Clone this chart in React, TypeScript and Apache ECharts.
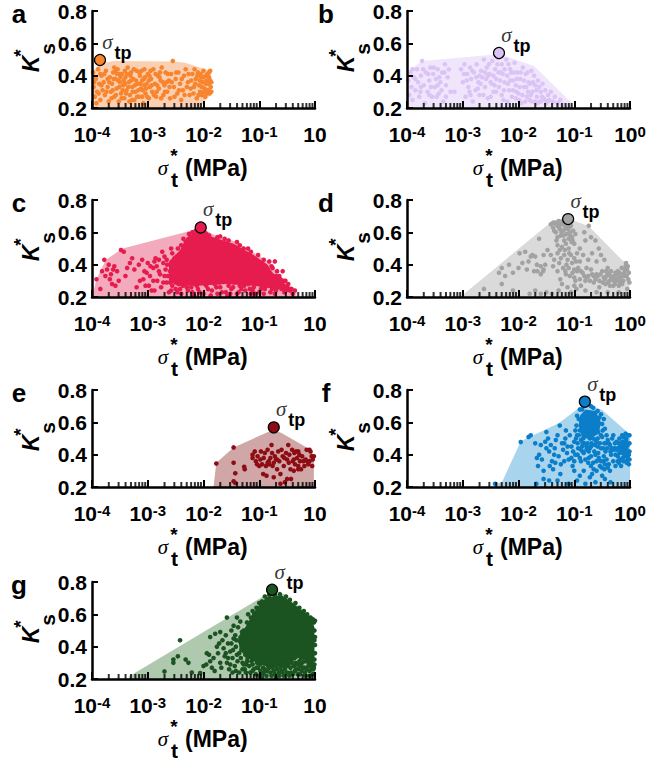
import React, { useEffect, useRef } from "react";
import * as echarts from "echarts";

const decades = [-4, -3, -2, -1];
const rugFactors = [2, 3, 4, 5, 6, 7, 8, 9];

// all x values are log10(sigma_t*), y values Ks*; flat x,y pairs
const hullA = [-4,.2,-4,.425,-3.85,.476,-3.61,.49,-2.54,.487,-2.33,.48,-1.88,.43,-1.85,.29,-2.06,.21,-2.3,.2];
const tpA = [-3.857,.497];
const ptsA = [
-3.98,.42,-3.97,.33,-3.95,.27,-3.93,.38,-3.91,.3,-3.89,.44,-3.87,.35,-3.85,.25,-3.83,.4,-3.81,.31,-3.79,.36,-3.77,.28,-3.75,.43,-3.72,.33,-3.7,.24,-3.68,.39,
-3.66,.3,-3.64,.35,-3.62,.42,-3.6,.27,-3.58,.38,-3.56,.32,-3.54,.44,-3.52,.24,-3.5,.36,-3.48,.29,-3.46,.41,-3.44,.34,-3.42,.26,-3.4,.39,-3.38,.31,-3.36,.45,
-3.34,.36,-3.32,.28,-3.3,.42,-3.28,.33,-3.26,.38,-3.24,.25,-3.22,.3,-3.2,.43,-3.18,.35,-3.16,.27,-3.14,.4,-3.12,.32,-3.1,.37,-3.08,.23,-3.06,.44,-3.04,.29,
-3.02,.35,-3.0,.41,-2.98,.26,-2.96,.33,-2.94,.38,-2.92,.3,-2.9,.44,-2.87,.35,-2.85,.27,-2.82,.4,-2.8,.32,-2.77,.37,-2.75,.45,-2.72,.28,-2.7,.34,-2.68,.42,
-2.65,.3,-2.62,.37,-2.6,.26,-2.58,.41,-2.55,.49,-2.53,.33,-2.5,.38,-2.47,.29,-2.45,.42,-2.42,.35,-2.4,.25,-2.37,.31,-2.35,.4,-2.32,.44,-2.28,.36,-2.25,.28,
-2.2,.41,-2.17,.33,-2.14,.38,-2.12,.26,-2.1,.42,-2.08,.34,-2.06,.3,-2.04,.39,-2.02,.36,-2,.43,-1.98,.32,-1.97,.27,-1.95,.37,-1.93,.41,-1.92,.31,-1.91,.35,
-1.9,.39,-1.89,.29,-1.88,.43,-1.87,.33,-1.86,.36,-1.86,.3,-3.6,.45,-3.45,.31,-3.3,.37,-3.15,.42,-3.53,.37,-3.37,.41,-3.23,.34,-3.05,.39,-2.95,.43,-2.78,.42,
-3.72,.38,-3.65,.26,-3.5,.41,-3.33,.24,-3.17,.31,-3.1,.27,-2.98,.37,-2.84,.3,-2.66,.36,-2.3,.33,-2.22,.37,-2.16,.44,-2.03,.28,-1.96,.4,-3.85,.41,-3.92,.23,
-3.96,.36,-3.88,.29,-3.83,.34,-3.78,.41,-3.74,.3,-3.69,.36,-3.63,.31,-3.61,.38,-3.57,.28,-3.55,.41,-3.51,.33,-3.49,.39,-3.47,.26,-3.43,.37,-3.41,.43,-3.39,.29,
-3.35,.33,-3.31,.4,-3.27,.3,-3.25,.44,-3.21,.37,-3.19,.27,-3.13,.35,-3.11,.43,-3.09,.31,-3.07,.38,-3.03,.32,-3.01,.27,-2.97,.4,-2.93,.34,-2.89,.28,-2.86,.41,
-2.83,.34,-2.79,.39,-2.76,.26,-2.73,.36,-2.69,.3,-2.64,.41,-2.61,.33,-2.57,.36,-2.52,.27,-2.49,.42,-2.44,.31,-2.39,.38,-2.34,.28,-2.27,.41,-2.23,.32,-2.18,.29,
-2.15,.35,-2.11,.4,-2.09,.28,-2.07,.37,-2.05,.41,-2.03,.33,-2.01,.39,-1.99,.3,-1.96,.35,-1.94,.29,-1.9,.42,-1.88,.37,-3.58,.43,-3.41,.35,-3.28,.25,-3.06,.34];

const hullB = [-4,.2,-4,.425,-3.73,.49,-2.47,.53,-2.2,.517,-1.72,.46,-1.04,.23,-1.07,.2];
const tpB = [-2.35,.54];
const ptsB = [
-3.98,.37,-3.96,.28,-3.94,.42,-3.92,.33,-3.9,.25,-3.88,.39,-3.85,.31,-3.82,.44,-3.8,.36,-3.78,.27,-3.75,.4,-3.73,.49,-3.7,.34,-3.68,.23,-3.66,.42,-3.63,.3,
-3.6,.37,-3.58,.45,-3.55,.27,-3.53,.41,-3.5,.33,-3.48,.38,-3.45,.44,-3.43,.29,-3.4,.36,-3.37,.42,-3.35,.24,-3.32,.47,-3.3,.34,-3.27,.39,-3.25,.44,-3.22,.3,
-3.03,.44,-3,.36,-2.97,.47,-2.95,.27,-2.92,.41,-2.9,.33,-2.87,.45,-2.85,.38,-2.82,.24,-2.8,.42,-2.77,.31,-2.75,.47,-2.72,.36,-2.7,.28,-2.67,.43,-2.65,.39,
-2.62,.5,-2.6,.33,-2.57,.45,-2.55,.26,-2.52,.41,-2.5,.36,-2.47,.49,-2.45,.3,-2.42,.44,-2.4,.38,-2.37,.51,-2.35,.33,-2.32,.42,-2.3,.47,-2.27,.25,-2.25,.36,
-2.22,.5,-2.2,.4,-2.17,.31,-2.15,.44,-2.12,.27,-2.1,.37,-2.07,.48,-2.05,.34,-2.02,.42,-2,.29,-1.97,.38,-1.95,.23,-1.92,.45,-1.9,.33,-1.87,.41,-1.85,.27,
-1.82,.36,-1.8,.25,-1.77,.43,-1.75,.3,-1.72,.4,-1.7,.34,-1.67,.27,-1.65,.37,-1.62,.24,-1.6,.3,-1.57,.35,-1.55,.26,-1.52,.31,-1.5,.23,-1.47,.28,-1.45,.25,
-1.42,.3,-1.38,.24,-1.35,.27,-1.3,.23,-1.25,.25,-1.2,.22,-2.55,.4,-2.48,.35,-2.4,.3,-2.33,.37,-2.25,.44,-2.15,.37,-2.05,.26,-1.98,.33,-1.88,.24,-1.83,.3,
-1.7,.24,-1.6,.24,-3.9,.44,-3.75,.33,-3.6,.28,-3.45,.34,-3.3,.27,-2.88,.3,-2.7,.4,-2.63,.28,-2.5,.27,-2.3,.28,-2.1,.31,-2.2,.24,-1.93,.28,-1.78,.28,
-3.71,.44,-3.62,.41,-3.52,.45,-3.42,.39,-3.33,.42,-3.85,.38,-3.76,.3,-3.57,.33,-3.38,.31,-2.93,.37,-2.83,.43,-2.76,.39,-2.68,.35,-2.58,.38,-2.53,.47,-2.43,.34,
-2.38,.47,-2.28,.41,-2.18,.47,-2.08,.42,-2.03,.38,-1.96,.42,-1.9,.37,-1.84,.42,-1.79,.35,-1.74,.36,-1.68,.31,-1.63,.33,-1.58,.27,-1.53,.25,-2.45,.4,-2.36,.42,
-2.26,.31,-2.19,.35,-2.13,.42,-2.04,.3,-1.99,.25,-1.86,.33,-1.76,.24,-1.66,.23,-1.48,.24,-2.6,.42,-2.73,.32,-2.86,.28,-2.98,.41,-3.47,.27,-3.15,.3];

const hullC = [-4,.2,-3.92,.31,-3.75,.43,-3.45,.5,-2.33,.6,-2.05,.63,-1.82,.586,-1.46,.546,-1.1,.475,-.81,.414,-.69,.353,-.45,.27,-.33,.23,-.33,.2];
const tpC = [-2.05,.63];
const coreC = [-2.62,.3,-2.62,.42,-2.42,.49,-2.3,.57,-2.12,.605,-1.82,.57,-1.46,.53,-1.1,.46,-.85,.4,-.76,.35,-.5,.27,-.4,.235,-.7,.25,-1.1,.27,-1.6,.28,-2.1,.27,-2.45,.27];
const ptsC = [
-3.92,.31,-3.85,.25,-3.82,.36,-3.78,.43,-3.76,.33,-3.73,.37,-3.7,.4,-3.68,.31,-3.66,.34,-3.64,.28,-3.62,.37,-3.6,.39,-3.58,.27,-3.55,.36,-3.52,.3,-3.48,.49,
-3.43,.48,-3.4,.33,-3.37,.38,-3.32,.41,-3.28,.44,-3.24,.37,-3.2,.26,-3.16,.4,-3.14,.3,-3.1,.43,-3.06,.36,-3.04,.27,-3,.41,-2.96,.33,-2.93,.24,-2.9,.38,
-2.86,.44,-2.83,.3,-2.8,.36,-2.76,.26,-2.74,.48,-2.7,.33,-2.66,.29,-2.62,.23,-2.58,.5,-2.55,.3,-2.5,.25,-2.45,.28,-2.4,.22,-2.35,.32,-2.3,.26,-2.25,.3,
-2.2,.23,-2.15,.28,-2.1,.25,-2.05,.31,-2,.22,-1.95,.27,-1.9,.3,-1.85,.24,-1.8,.28,-1.75,.22,-1.7,.26,-1.65,.3,-1.6,.23,-1.55,.27,-1.5,.25,-1.45,.29,
-1.4,.22,-1.35,.27,-1.3,.3,-1.25,.24,-1.2,.28,-1.15,.22,-1.1,.26,-1.05,.29,-1,.23,-.95,.27,-.9,.25,-.85,.3,-.8,.23,-.75,.26,-.7,.24,-.65,.28,-.6,.25,
-.55,.23,-.5,.26,-.45,.24,-.4,.22,-.78,.39,-.72,.42,-.68,.36,-.64,.33,-.58,.36,-.53,.3,-1.95,.59,-1.62,.56,-1.35,.52,-1.2,.5,-1.75,.57,
-2.65,.4,-2.6,.36,-2.48,.45,-2.8,.43,-2.9,.3,-3.02,.35,-3.08,.31,
-2.68,.37,-2.66,.43,-2.64,.33,-2.72,.41,-2.78,.34,-2.84,.39,-2.88,.42,-2.95,.39,-2.7,.45,-2.56,.47,-2.52,.44,-2.46,.5,-2.4,.52,-2.36,.56,-2.32,.54,-2.26,.59,
-2.2,.6,-2.14,.61,-1.98,.6,-1.9,.58,-1.7,.575,-1.55,.55,-1.4,.54,-1.28,.5,-1.15,.48,-1.02,.46,-.92,.43,-.82,.42,-.76,.38,-.7,.33,-.62,.31,-.56,.3,-.48,.28,
-2.56,.27,-2.5,.29,-2.42,.25,-2.28,.24,-2.12,.27,-1.92,.25,-1.72,.29,-1.52,.22,-1.32,.25,-1.12,.24,-.92,.22,-.72,.22,-.52,.24,-.42,.25,-.36,.24,
-2.47,.23,-2.37,.27,-2.22,.26,-2.17,.21,-2.07,.23,-1.97,.28,-1.87,.21,-1.77,.26,-1.67,.23,-1.57,.21,-1.47,.26,-1.37,.23,-1.27,.27,-1.17,.25,-1.07,.22,-.97,.25,
-.87,.27,-.77,.25,-.67,.26,-.57,.27,-.47,.25,-2.58,.24,-2.6,.29,-2.72,.29,-2.98,.27,-2.88,.24];

const hullD = [-3.05,.2,-3.01,.21,-1.49,.643,-1.34,.678,-1,.672,-.74,.637,-.14,.428,-.05,.41,0,.23,0,.2];
const tpD = [-1.11,.682];
const ptsD = [
-1.42,.65,-1.38,.63,-1.35,.66,-1.33,.6,-1.3,.64,-1.28,.67,-1.26,.62,-1.24,.58,-1.22,.65,-1.2,.61,-1.18,.55,-1.16,.64,-1.14,.59,-1.12,.62,-1.1,.56,-1.08,.6,
-1.06,.64,-1.04,.57,-1.02,.61,-1,.53,-1.36,.61,-1.3,.57,-1.25,.65,-1.19,.58,-1.15,.53,-1.1,.5,-1.05,.54,-.98,.59,-.74,.64,-.82,.6,-.7,.57,-.62,.55,-.56,.5,
-.8,.55,-.9,.5,-.95,.47,-1,.44,-1.06,.46,-1.12,.43,-1.18,.46,-1.24,.44,-1.3,.47,-1.36,.43,-1.42,.46,-1.48,.49,-1.55,.46,-1.3,.52,-1.38,.39,-1.2,.38,-1.1,.38,
-1,.37,-.9,.42,-.84,.46,-.75,.43,-.68,.47,-.6,.42,-.52,.46,-.46,.43,-.4,.38,-1.15,.34,-1.08,.33,-1,.32,-.95,.36,-.9,.31,-.85,.35,-.8,.3,-.75,.33,
-.7,.37,-.65,.29,-.6,.34,-.55,.3,-.5,.36,-.47,.32,-.44,.28,-.4,.34,-.37,.3,-.34,.36,-.3,.27,-.28,.33,-.25,.3,-.22,.36,-.2,.27,-.17,.32,-.15,.38,-.12,.3,
-.1,.35,-.07,.41,-.05,.37,-.03,.31,-.08,.39,-.13,.34,-.18,.29,-.24,.34,-.31,.32,-.36,.27,-.43,.36,-.55,.26,-.65,.33,-.78,.38,-.88,.27,-1,.27,-1.12,.26,
-1.06,.23,-1.25,.31,-1.3,.36,-1.22,.28,-1.28,.24,-1.4,.22,-1.5,.23,-1.6,.22,-1.7,.24,-1.8,.22,-1.55,.37,-1.67,.4,-1.72,.36,-1.82,.42,-1.85,.37,-1.88,.48,
-1.93,.41,-1.98,.47,-2,.38,-2.1,.35,-2.17,.4,-2.24,.33,-2.3,.38,-2.35,.35,-2.62,.25,-2.3,.28,-2.1,.24,-1.75,.46,-1.63,.56,-1.78,.45,-1.7,.45,-1.6,.34,
-1.6,.39,-1.56,.36,-1.52,.4,-1.66,.36,-.96,.25,-.8,.24,-.6,.23,-.4,.23,-.2,.23,-.05,.25,
-1.38,.66,-1.32,.65,-1.27,.63,-1.23,.6,-1.21,.67,-1.17,.62,-1.13,.65,-1.09,.63,-1.07,.58,-1.03,.55,-1.32,.55,-1.26,.49,-1.22,.51,-1.17,.49,-1.09,.47,-1.04,.41,
-.97,.42,-.93,.38,-1.14,.4,-1.03,.35,-.98,.3,-.88,.36,-.82,.33,-.78,.32,-.72,.3,-.68,.34,-.62,.31,-.58,.33,-.53,.34,-.49,.29,-.45,.31,-.42,.33,-.38,.35,-.33,.31,
-.29,.3,-.26,.35,-.23,.31,-.19,.35,-.16,.3,-.14,.28,-.11,.33,-.09,.37,-.06,.33,-.04,.39,-.02,.35,-.01,.29,-.35,.33,-.27,.28,-.21,.33,-.39,.29,-1.16,.36,-1.27,.41];

const hullE = [-1.82,.2,-1.77,.35,-1.46,.445,-.75,.554,-.6,.534,-.18,.45,-.02,.4,-.02,.2];
const tpE = [-.74,.569];
const ptsE = [
-1.77,.345,-1.46,.445,-1.46,.35,-1.43,.285,-1.46,.235,-1.43,.225,-1.27,.325,-1.26,.31,-1.12,.38,-1.12,.4,-1.08,.42,-1.06,.36,-1.04,.34,-1.03,.39,-1,.33,-.98,.37,
-.97,.42,-.95,.34,-.93,.28,-.92,.38,-.9,.41,-.88,.33,-.87,.27,-.85,.43,-.83,.36,-.82,.34,-.8,.38,-.78,.46,-.77,.41,-.76,.33,-.74,.26,-.72,.39,-.7,.37,
-.68,.31,-.66,.42,-.64,.36,-.62,.28,-.6,.43,-.58,.39,-.56,.33,-.54,.23,-.52,.41,-.5,.37,-.48,.46,-.46,.4,-.44,.31,-.43,.25,-.41,.43,-.4,.36,-.38,.3,
-.37,.41,-.36,.34,-.34,.42,-.32,.38,-.3,.33,-.28,.4,-.27,.36,-.25,.31,-.23,.39,-.21,.36,-.19,.33,-.17,.37,-.14,.36,-.12,.34,-.1,.36,-.08,.42,-.06,.39,
-.04,.37,-.02,.39,-.15,.43,-.1,.43,-.3,.42,-.47,.35,-.55,.38,-.38,.37,-.68,.37,-.74,.35,-.62,.22,-.5,.25,-.3,.31,-.05,.33,-.85,.35];

const hullF = [-2.44,.2,-2.44,.22,-2.3,.226,-1.96,.483,-1.28,.595,-.8,.718,-.5,.677,-.05,.54,0,.53,0,.2];
const tpF = [-.81,.728];
const coreF1 = [-.92,.58,-.9,.64,-.8,.68,-.62,.67,-.52,.6,-.56,.53,-.72,.5,-.86,.5];
const coreF2 = [-.16,.49,-.03,.5,-.02,.38,-.1,.39,-.17,.43];
const ptsF = [
-2.42,.22,-1.96,.478,-1.82,.51,-1.78,.52,-1.7,.47,-1.67,.38,-1.65,.33,-1.63,.4,-1.6,.46,-1.58,.37,-1.55,.3,-1.52,.48,-1.5,.54,-1.47,.5,-1.45,.42,-1.42,.46,
-1.4,.36,-1.38,.31,-1.35,.44,-1.33,.49,-1.3,.52,-1.28,.39,-1.26,.58,-1.24,.34,-1.2,.43,-1.18,.47,-1.15,.55,-1.13,.41,-1.1,.37,-1.08,.52,-1.05,.45,-1.03,.33,
-1,.48,-.98,.4,-.96,.58,-.93,.44,-.9,.38,-.88,.62,-.85,.42,-.83,.3,-.8,.37,-.78,.43,-.75,.35,-.72,.44,-.7,.39,-.68,.28,-.66,.35,-.64,.42,-.62,.4,-.6,.3,
-.58,.45,-.56,.38,-.54,.33,-.52,.44,-.5,.27,-.48,.36,-.46,.31,-.44,.42,-.42,.37,-.4,.49,-.38,.34,-.36,.46,-.34,.4,-.32,.5,-.3,.36,-.28,.44,-.26,.33,-.24,.48,
-.22,.39,-.2,.35,-.18,.45,-.16,.33,-.14,.52,-.12,.36,-.1,.43,-.08,.53,-.06,.35,-.04,.46,-.02,.34,-.01,.42,-.3,.52,-.42,.52,-.36,.3,-.26,.4,-.52,.36,-.48,.44,
-1.45,.24,-1.3,.24,-1.1,.22,-.95,.24,-.8,.22,-.62,.23,-.35,.23,-1.68,.22,-1.55,.25,-1.25,.28,-1,.3,-.9,.27,-.7,.33,-.6,.36,-.95,.52,-.72,.5,
-.55,.63,-.5,.59,-.45,.56,-.92,.62,-.86,.68,-.7,.7,-.62,.66,-.1,.39,-.04,.38,-.16,.43,-.6,.48,-.78,.45,-.84,.5,
-.98,.55,-.97,.5,-.94,.47,-.9,.55,-.88,.49,-.86,.45,-.82,.47,-.8,.52,-.76,.47,-.74,.42,-.69,.47,-.66,.5,-.63,.46,-.58,.5,-.54,.47,-.52,.52,-.49,.55,-.47,.62,
-.95,.64,-.9,.68,-.83,.7,-.77,.71,-.66,.69,-.58,.67,-.52,.65,-.2,.47,-.23,.44,-.19,.5,-.14,.48,-.12,.51,-.09,.48,-.07,.5,-.03,.52,-.01,.52,-.01,.47,-.01,.37,
-.03,.41,-.06,.42,-.09,.4,-.13,.41,-.19,.41,-.22,.36,-.27,.47,-.33,.44,-.38,.47,-.43,.47,-.47,.39,-.51,.32,-.57,.41,-.65,.31,-.74,.38,-.83,.41,-.88,.43,
-1.22,.47,-1.16,.5,-1.12,.45,-1.02,.42,-1,.36,-.94,.4,-.88,.36,-1.36,.4,-1.44,.33,-1.5,.44,-1.34,.35,-1.18,.36,-1.05,.38,-.72,.26,-.45,.25,
-.92,.52,-.85,.47,-.77,.53,-.7,.45,-.62,.49,-.57,.54,-.5,.51,-.46,.47,-.41,.44,-.35,.42,-.3,.43,-.24,.43,-.18,.37,-.13,.38,-.07,.36,-.02,.4,-.45,.34,-.4,.32];

const hullG = [-3.34,.2,-3.34,.216,-.87,.722,-.57,.728,-.03,.575,0,.2];
const tpG = [-.77,.752];
const coreG = [-1.12,.6,-1.02,.65,-.87,.705,-.6,.718,-.39,.667,-.08,.58,-.01,.52,-.01,.31,-.3,.33,-.55,.28,-.9,.28,-1.16,.32,-1.35,.38,-1.38,.46,-1.25,.52];
const ptsG = [
-2.42,.44,-2.54,.32,-2.46,.34,-2.54,.3,-2.32,.32,-2.27,.3,-2.7,.247,-2.21,.24,-2.06,.237,-2,.28,-1.94,.36,-1.9,.35,-1.88,.46,-1.79,.48,-1.58,.58,-1.4,.58,
-1.34,.555,-1.46,.53,-1.7,.49,-1.2,.6,-1.12,.62,-1.95,.29,-1.88,.31,-1.85,.27,-1.82,.33,-1.8,.25,-1.76,.4,-1.74,.36,-1.72,.42,-1.7,.3,-1.68,.27,-1.66,.44,
-1.64,.39,-1.62,.34,-1.6,.47,-1.58,.3,-1.56,.42,-1.54,.26,-1.52,.37,-1.5,.5,-1.48,.33,-1.46,.45,-1.44,.28,-1.42,.4,-1.4,.35,-1.38,.52,-1.36,.24,-1.34,.43,
-1.32,.38,-1.3,.3,-1.28,.5,-1.26,.26,-1.24,.46,-1.22,.55,-1.2,.35,-1.18,.28,-1.16,.24,-1.14,.31,-1.12,.57,-1.1,.26,-1.08,.33,-1.06,.23,-1.04,.3,-1.02,.27,
-1,.22,-.98,.25,-.96,.3,-.94,.23,-.9,.26,-.87,.22,-.84,.28,-.8,.24,-.76,.27,-.72,.23,-.68,.26,-.64,.22,-.6,.25,-.56,.28,-.52,.31,-.5,.24,-.46,.34,-.44,.27,
-.42,.3,-.4,.23,-.37,.33,-.34,.26,-.32,.36,-.3,.29,-.27,.23,-.25,.33,-.22,.27,-.2,.36,-.18,.24,-.16,.31,-.14,.37,-.12,.28,-.1,.25,-.08,.34,-.06,.3,-.04,.23,
-.03,.36,-.02,.27,-.01,.32,-.35,.3,-.58,.31,-.75,.3,-.88,.3,-.98,.33,-1.1,.38,-1.18,.42,-1.25,.35,-1.3,.44,-1.36,.36,-.01,.44,-.02,.55,-.01,.5,
-1.5,.42,-1.47,.38,-1.43,.47,-1.41,.44,-1.39,.31,-1.33,.33,-1.31,.49,-1.29,.41,-1.27,.37,-1.23,.29,-1.21,.33,-1.19,.5,-1.15,.58,-1.13,.36,-1.09,.6,-1.05,.64,
-1,.67,-.95,.68,-.9,.71,-.82,.72,-.72,.72,-.63,.725,-.52,.71,-.45,.69,-.35,.67,-.28,.64,-.2,.62,-.14,.6,-.08,.58,-.04,.57,0,.56,0,.46,0,.41,0,.36,-.01,.29,
-1.6,.36,-1.56,.33,-1.52,.29,-1.48,.24,-1.42,.25,-1.3,.26,-1.24,.24,-1.12,.25,-.92,.24,-.78,.22,-.66,.29,-.54,.26,-.48,.29,-.38,.28,-.28,.31,-.24,.25,-.12,.32,-.06,.26,
-1.05,.27,-.99,.29,-.93,.27,-.86,.25,-.82,.27,-.74,.25,-.7,.28,-.62,.27,-.58,.24,-.47,.31,-.43,.24,-.36,.25,-.33,.29,-.26,.28,-.23,.3,-.19,.27,-.15,.26,-.11,.3,-.07,.28,
-.03,.26,-.02,.23,-.09,.22,-.17,.22,-.31,.23,-.46,.22,-.56,.22,-.7,.21,-.08,.31,-.04,.29,-.2,.31,-.3,.26,-.5,.28,-.65,.24,-.95,.21,-1.22,.31,-1.28,.29,-1.12,.29];

const rows = [
  { id: "a", L: 92, T: 11, lx: 19, pts: ptsA, hull: hullA, tp: tpA, cores: [] as number[][], hullColor: "#FBD0B2", color: "#F8842E", right: false },
  { id: "b", L: 407, T: 11, lx: 326, pts: ptsB, hull: hullB, tp: tpB, cores: [], hullColor: "#F0E6FC", color: "#DCC3F6", right: true },
  { id: "c", L: 92, T: 200, lx: 19, pts: ptsC, hull: hullC, tp: tpC, cores: [coreC], hullColor: "#F4AABD", color: "#E61C4E", right: false },
  { id: "d", L: 407, T: 200, lx: 326, pts: ptsD, hull: hullD, tp: tpD, cores: [], hullColor: "#DADADA", color: "#A2A2A2", right: true },
  { id: "e", L: 92, T: 390, lx: 19, pts: ptsE, hull: hullE, tp: tpE, cores: [], hullColor: "#D0A6A6", color: "#8E0C14", right: false },
  { id: "f", L: 407, T: 390, lx: 326, pts: ptsF, hull: hullF, tp: tpF, cores: [coreF1, coreF2], hullColor: "#A9D4EE", color: "#0A7EC9", right: true },
  { id: "g", L: 92, T: 582, lx: 19, pts: ptsG, hull: hullG, tp: tpG, cores: [coreG], hullColor: "#AFC9AF", color: "#1B5321", right: false },
];

const W = 223;
const H = 97;
const SANS = '"Liberation Sans", Arial, sans-serif';
const SERIF = '"Liberation Serif", serif';

const pairs = (flat: number[]) => {
  const out: number[][] = [];
  for (let i = 0; i + 1 < flat.length; i += 2) out.push([Math.pow(10, flat[i]), flat[i + 1]]);
  return out;
};

const polygonSeries = (flat: number[], fill: string, idx: number, z: number) => ({
  type: "custom",
  xAxisIndex: idx,
  yAxisIndex: idx,
  silent: true,
  z,
  data: [pairs(flat)[0]],
  renderItem: (_p: any, api: any) => ({
    type: "polygon",
    shape: { points: pairs(flat).map((v) => api.coord(v)) },
    style: { fill },
  }),
});

const rugValues = decades.flatMap((d) => rugFactors.map((f) => [f * Math.pow(10, d), 0.2]));

export default function App() {
  const ref = useRef<HTMLDivElement>(null);
  useEffect(() => {
    const chart = echarts.init(ref.current!, null, { renderer: "svg" });
    const grid: any[] = [];
    const xAxis: any[] = [];
    const yAxis: any[] = [];
    const series: any[] = [];
    const graphic: any[] = [];
    const txt = (x: number, y: number, text: string, font: string, extra: any = {}, align = "center") => ({
      type: "text",
      x,
      y,
      rotation: extra.rotation || 0,
      silent: true,
      style: { text, font, fill: "#000", align, verticalAlign: "middle" },
    });
    rows.forEach((r, i) => {
      grid.push({ left: r.L, top: r.T, width: W, height: H });
      xAxis.push({
        gridIndex: i,
        type: "log",
        logBase: 10,
        min: 1e-4,
        max: 1,
        z: 10,
        splitLine: { show: false },
        minorTick: { show: false },
        axisLine: { show: true, onZero: false, lineStyle: { color: "#000", width: 2.5 } },
        axisTick: { show: true, inside: true, length: 7, lineStyle: { color: "#000", width: 2 } },
        axisLabel: {
          margin: 16,
          color: "#000",
          showMinLabel: true,
          showMaxLabel: true,
          hideOverlap: false,
          formatter: (v: number) => {
            const e = Math.round(Math.log10(v));
            if (e === 0 && !r.right) return "{b|10}";
            return `{b|10}{s|${e}}`;
          },
          rich: {
            b: { fontFamily: SANS, fontWeight: "bold", fontSize: 21, lineHeight: 21, color: "#000" },
            s: { fontFamily: SANS, fontWeight: "bold", fontSize: 15, lineHeight: 15, verticalAlign: "top", color: "#000" },
          },
        },
      });
      yAxis.push({
        gridIndex: i,
        type: "value",
        min: 0.2,
        max: 0.8,
        interval: 0.2,
        z: 10,
        splitLine: { show: false },
        axisLine: { show: true, onZero: false, lineStyle: { color: "#000", width: 2.5 } },
        axisTick: { show: true, inside: true, length: 6, lineStyle: { color: "#000", width: 2 } },
        axisLabel: {
          margin: 5,
          color: "#000",
          fontFamily: SANS,
          fontWeight: "bold",
          fontSize: 21,
          formatter: (v: number) => v.toFixed(1),
        },
      });
      series.push(polygonSeries(r.hull, r.hullColor, i, 1));
      r.cores.forEach((c) => series.push(polygonSeries(c, r.color, i, 2)));
      series.push({
        type: "scatter",
        xAxisIndex: i,
        yAxisIndex: i,
        silent: true,
        z: 3,
        symbolSize: 4.6,
        clip: false,
        itemStyle: { color: r.color, opacity: 1 },
        data: pairs(r.pts),
      });
      series.push({
        type: "scatter",
        xAxisIndex: i,
        yAxisIndex: i,
        silent: true,
        z: 5,
        symbol: "rect",
        symbolSize: [2, 5],
        symbolOffset: [0, -2.5],
        itemStyle: { color: "#000" },
        data: rugValues,
      });
      series.push({
        type: "scatter",
        xAxisIndex: i,
        yAxisIndex: i,
        silent: true,
        z: 6,
        symbolSize: 11,
        clip: false,
        itemStyle: { color: r.color, borderColor: "#000", borderWidth: 1.2, opacity: 1 },
        label: {
          show: true,
          position: "inside",
          offset: [23, -7],
          formatter: "tp",
          color: "#000",
          fontFamily: SANS,
          fontWeight: "bold",
          fontSize: 18,
        },
        data: pairs(r.tp),
      });
      series.push({
        type: "scatter",
        xAxisIndex: i,
        yAxisIndex: i,
        silent: true,
        z: 6,
        symbolSize: 1,
        clip: false,
        itemStyle: { color: "transparent" },
        label: {
          show: true,
          position: "inside",
          offset: [7.5, -18],
          formatter: "σ",
          color: "#000",
          fontFamily: SERIF,
          fontStyle: "italic",
          fontSize: 21,
        },
        data: pairs(r.tp),
      });
      const B = r.T + H;
      graphic.push(txt(r.lx, r.T + 3, r.id, `bold 26px ${SANS}`));
      graphic.push(txt(r.L + 71, B + 60, "σ", `italic 21px ${SERIF}`));
      graphic.push(txt(r.L + 82, B + 47, "*", `bold 19px ${SANS}`));
      graphic.push(txt(r.L + 82.5, B + 71, "t", `bold 21px ${SANS}`));
      graphic.push(txt(r.L + 93, B + 60, "(MPa)", `bold 23px ${SANS}`, {}, "left"));
      graphic.push(txt(r.L - 61, r.T + 53, "K", `italic bold 23px ${SANS}`, { rotation: Math.PI / 2 }));
      graphic.push(txt(r.L - 45, r.T + 38, "s", `bold 21px ${SANS}`, { rotation: Math.PI / 2 }));
      graphic.push(txt(r.L - 72, r.T + 42, "*", `bold 19px ${SANS}`, { rotation: Math.PI / 2 }));
    });
    chart.setOption({ animation: false, backgroundColor: "#fff", grid, xAxis, yAxis, series, graphic });
    return () => chart.dispose();
  }, []);
  return <div ref={ref} style={{ position: "absolute", left: 0, top: 0, width: 649, height: 761 }} />;
}
